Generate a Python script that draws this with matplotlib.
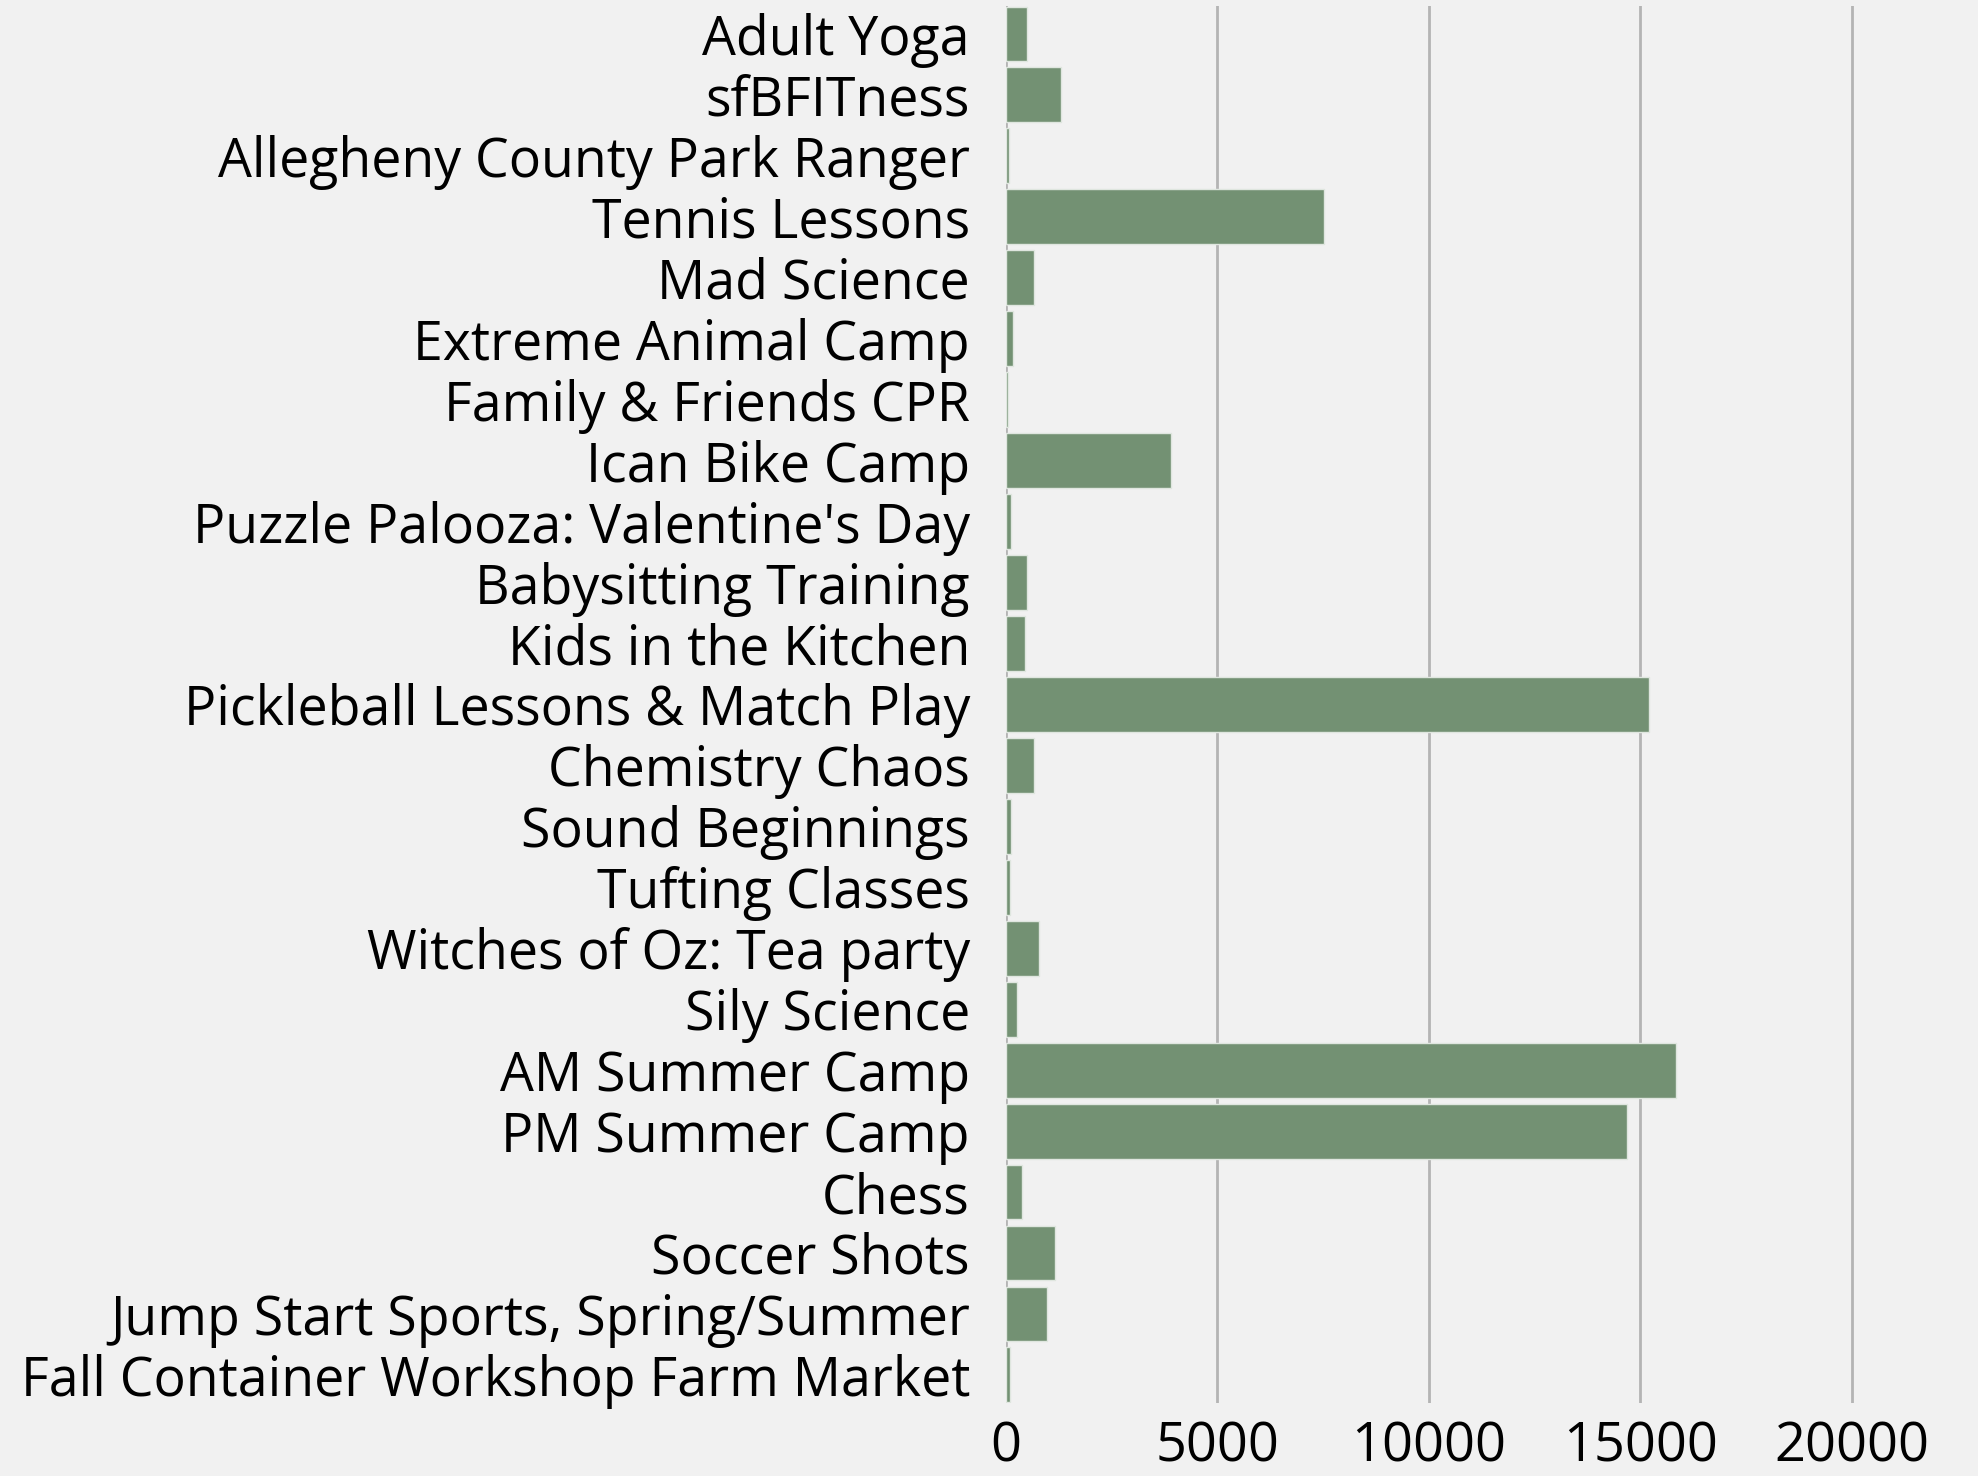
import matplotlib
matplotlib.use("Agg")
import matplotlib.pyplot as plt

categories = [
    "Adult Yoga", "sfBFITness", "Allegheny County Park Ranger", "Tennis Lessons",
    "Mad Science", "Extreme Animal Camp", "Family & Friends CPR", "Ican Bike Camp",
    "Puzzle Palooza: Valentine's Day", "Babysitting Training", "Kids in the Kitchen",
    "Pickleball Lessons & Match Play", "Chemistry Chaos", "Sound Beginnings",
    "Tufting Classes", "Witches of Oz: Tea party", "Sily Science", "AM Summer Camp",
    "PM Summer Camp", "Chess", "Soccer Shots", "Jump Start Sports, Spring/Summer",
    "Fall Container Workshop Farm Market",
]
values = [500, 1290, 60, 7520, 667, 170, 50, 3900, 127, 486, 454, 15200, 665, 116,
          85, 792, 268, 15835, 14688, 372, 1162, 968, 89]
xticks = [0, 5000, 10000, 15000, 20000]

BG = "#f1f1f1"
BAR = "#739173"
GRID = "#b4b4b4"

plt.rcParams['font.family'] = ['Open Sans', 'DejaVu Sans']

fig = plt.figure(figsize=(19.78, 14.76), dpi=100, facecolor=BG)
ax = fig.add_axes([0.5086, 0.0495, 0.981 - 0.5086, 0.996 - 0.0495], facecolor=BG)

y = list(range(len(categories)))
ax.barh(y, values, height=0.9, color=BAR, edgecolor="#dfe6df", linewidth=1.0, zorder=3)

ax.set_yticks(y)
ax.set_yticklabels(categories, fontsize=38.6, color="#000000")
ax.set_ylim(len(categories) - 1 + 0.46, -0.46)
ax.set_xlim(0, 22100)
ax.set_xticks(xticks)
ax.set_xticklabels([str(t) for t in xticks], fontsize=39, color="#000000")

ax.tick_params(axis='y', length=0, pad=26)
ax.tick_params(axis='x', length=0, pad=12)
ax.xaxis.grid(True, color=GRID, linewidth=2, zorder=0)
ax.yaxis.grid(False)
for s in ax.spines.values():
    s.set_visible(False)

fig.savefig("out.png", dpi=100, facecolor=BG)
